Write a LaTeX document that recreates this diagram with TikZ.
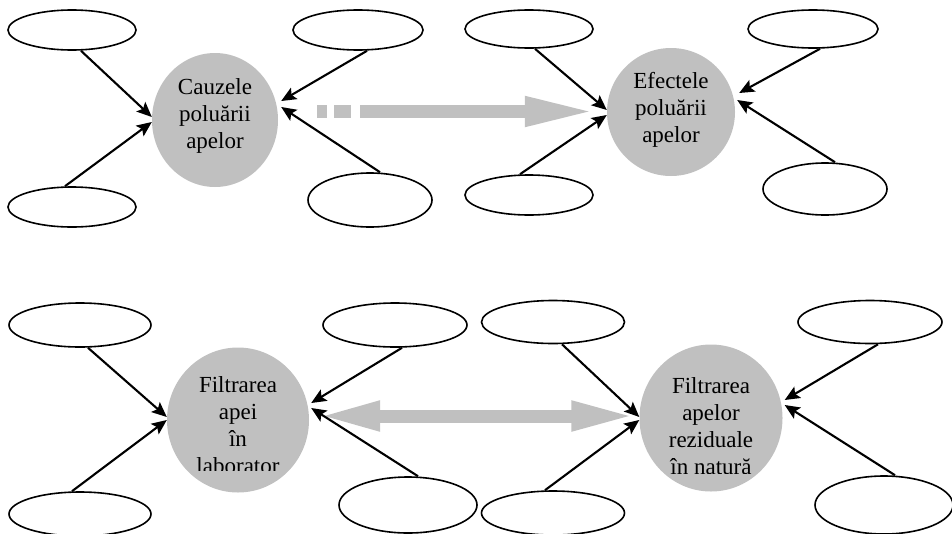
\documentclass[tikz,border=0pt]{standalone}
\usepackage{fontspec}
\setmainfont{Liberation Serif}
\usetikzlibrary{shapes.geometric,arrows.meta}
\definecolor{hub}{RGB}{192,192,192}
\tikzset{
  x=1pt, y=-1pt,
  leaf/.style={ellipse, draw=black, line width=1.6pt, fill=white, inner sep=0pt,
               minimum width=#1},
  hubnode/.style={ellipse, fill=hub, inner sep=0pt},
  hubtext/.style={align=center, font=\fontsize{23pt}{27pt}\selectfont, inner sep=0pt},
  feed/.style={line width=2.1pt, -{Stealth[length=15pt,width=13pt,inset=3pt]}},
  link/.style={draw=hub, line width=13pt, line cap=butt},
}
\begin{document}
\begin{tikzpicture}
\useasboundingbox (0,0) rectangle (952,533);

% ---- causes ----
\node[hubnode, minimum width=126pt, minimum height=134pt] (cauz) at (215,120) {};
\node[hubtext] at ([yshift=4pt]cauz.center) {Cauzele\\poluării\\apelor};
\node[leaf=128pt, minimum height=40pt] (c1) at (72,30) {};
\node[leaf=128pt, minimum height=40pt] (c2) at (72,207) {};
\node[leaf=130pt, minimum height=40pt] (c3) at (358,30) {};
\node[leaf=124pt, minimum height=54pt] (c4) at (370,200) {};

% ---- effects ----
\node[hubnode, minimum width=128pt, minimum height=128pt] (efec) at (671,112) {};
\node[hubtext] at ([yshift=2pt]efec.center) {Efectele\\poluării\\apelor};
\node[leaf=128pt, minimum height=38pt] (f1) at (529,29) {};
\node[leaf=128pt, minimum height=40pt] (f2) at (529,195) {};
\node[leaf=130pt, minimum height=38pt] (f3) at (813,29) {};
\node[leaf=124pt, minimum height=52pt] (f4) at (825,189) {};

% ---- laboratory filtering ----
\node[hubnode, minimum width=142pt, minimum height=145pt] (lab) at (238,420) {};
\begin{scope}
  \clip (150,340) rectangle (330,470);
  \node[hubtext] at ([yshift=-5pt]lab.center) {Filtrarea\\apei\\în\\laborator};
\end{scope}
\node[leaf=142pt, minimum height=44pt] (l1) at (80,325) {};
\node[leaf=142pt, minimum height=44pt] (l2) at (80,514) {};
\node[leaf=144pt, minimum height=44pt] (l3) at (395,325) {};
\node[leaf=138pt, minimum height=56pt] (l4) at (408,505) {};

% ---- natural filtering ----
\node[hubnode, minimum width=143pt, minimum height=147pt] (nat) at (711,418) {};
\begin{scope}
  \clip (630,340) rectangle (800,473);
  \node[hubtext] at ([yshift=-8pt]nat.center) {Filtrarea\\apelor\\reziduale\\în natură};
\end{scope}
\node[leaf=143pt, minimum height=43pt] (n1) at (553,322) {};
\node[leaf=143pt, minimum height=44pt] (n2) at (553,513) {};
\node[leaf=144pt, minimum height=43pt] (n3) at (870,322) {};
\node[leaf=138pt, minimum height=58pt] (n4) at (884,505) {};

% ---- grey links between hubs ----
\draw[link, dash pattern=on 10pt off 7pt on 17pt off 9pt on 400pt off 0pt,
      -{Triangle[length=72pt,width=27pt]}]
  ([xshift=39pt,yshift=8.5pt]cauz.east) -- ([xshift=-10pt,yshift=0.5pt]efec.west);
\draw[link, {Triangle[length=63pt,width=27pt]}-{Triangle[length=65pt,width=27pt]}]
  ([xshift=8pt,yshift=4pt]lab.east) -- ([xshift=-3pt,yshift=2pt]nat.west);

% ---- feeding arrows ----
\draw[feed] ([xshift=9pt]c1.south) -- ([yshift=3pt]cauz.west);
\draw[feed] ([xshift=-7pt]c2.north) -- ([yshift=-2pt]cauz.west);
\draw[feed] ([xshift=9pt]c3.south) -- ([xshift=3pt,yshift=19pt]cauz.east);
\draw[feed] ([xshift=10pt]c4.north) -- ([xshift=3pt,yshift=13pt]cauz.east);

\draw[feed] ([xshift=6pt]f1.south) -- ([yshift=2pt]efec.west);
\draw[feed] ([xshift=-9pt]f2.north) -- ([yshift=-3pt]efec.west);
\draw[feed] ([xshift=7pt]f3.south) -- ([xshift=4pt,yshift=19pt]efec.east);
\draw[feed] ([xshift=10pt]f4.north) -- ([xshift=2pt,yshift=12pt]efec.east);

\draw[feed] ([xshift=8pt]l1.south) -- ([yshift=3pt]lab.west);
\draw[feed] ([xshift=-8pt]l2.north) -- ([yshift=0pt]lab.west);
\draw[feed] ([xshift=7pt]l3.south) -- ([xshift=2pt,yshift=17pt]lab.east);
\draw[feed] ([xshift=10pt]l4.north) -- ([xshift=2pt,yshift=12pt]lab.east);

\draw[feed] ([xshift=9pt]n1.south) -- ([yshift=1pt]nat.west);
\draw[feed] ([xshift=-8pt]n2.north) -- ([yshift=-2pt]nat.west);
\draw[feed] ([xshift=8pt]n3.south) -- ([xshift=2pt,yshift=18pt]nat.east);
\draw[feed] ([xshift=11pt]n4.north) -- ([xshift=2pt,yshift=13pt]nat.east);
\end{tikzpicture}
\end{document}
